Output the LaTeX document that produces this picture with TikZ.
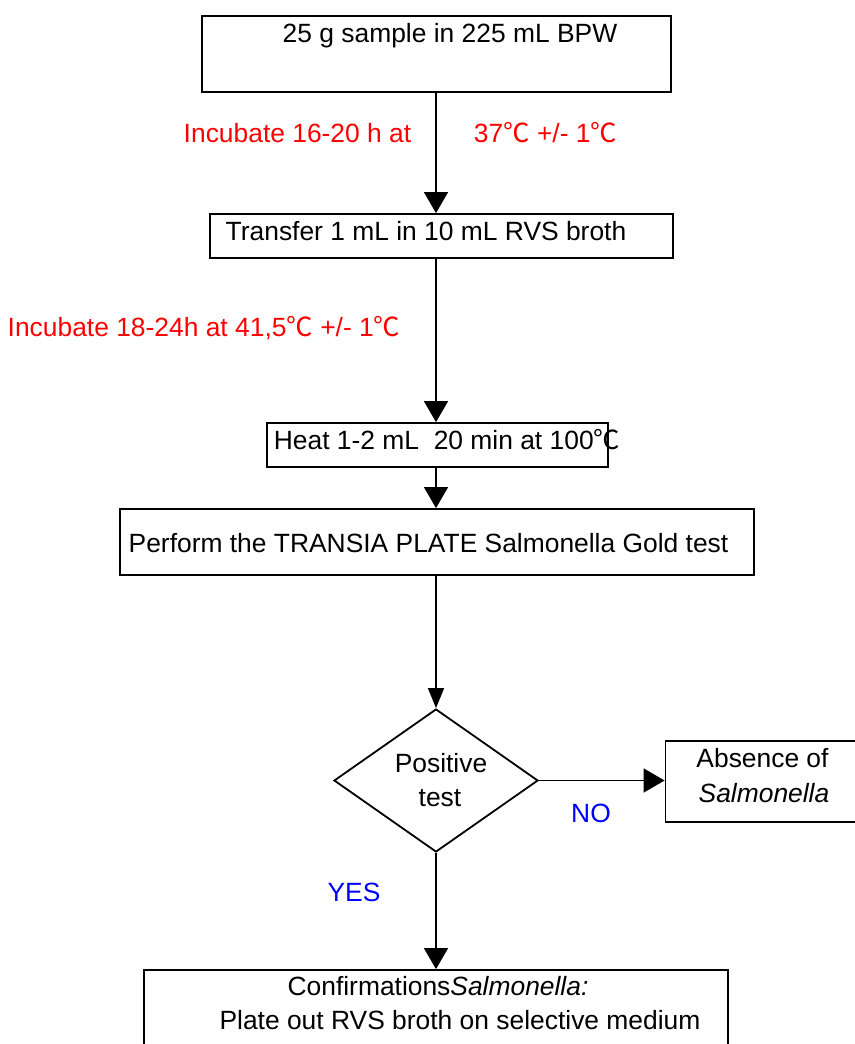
\documentclass[tikz,border=0pt]{standalone}
\usepackage{fontspec}
\setmainfont{Liberation Sans}
\newfontfamily\cjkfont{Noto Sans CJK SC}
\newcommand\degc{{\cjkfont ℃}}
\usetikzlibrary{shapes.geometric,arrows.meta}
\definecolor{labred}{RGB}{255,0,0}
\definecolor{labblue}{RGB}{0,0,255}
\begin{document}
\begin{tikzpicture}[x=1pt,y=-1pt,
  box/.style={draw,line width=1.8pt,inner sep=0pt},
  txt/.style={anchor=base,inner sep=0pt,font=\fontsize{26.4}{32}\selectfont},
  redlab/.style={txt,text=labred},
  bluelab/.style={txt,text=labblue},
  arr/.style={line width=1.5pt,-{Triangle[length=21pt,width=24pt]}},
  smallarr/.style={line width=1.5pt,-{Triangle[length=20pt,width=16pt]}}
]
\useasboundingbox (0,0) rectangle (854,1044);

% boxes
\node[box,minimum width=469pt,minimum height=76pt] (b1) at (436.5,54) {};
\node[box,minimum width=463pt,minimum height=44pt] (b2) at (441.5,236) {};
\node[box,minimum width=341pt,minimum height=44pt] (b3) at (437.5,445) {};
\node[box,minimum width=633.5pt,minimum height=66pt] (b4) at (437,542) {};
\node[box,diamond,aspect=1.43,minimum width=204pt,minimum height=143pt] (dia) at (436,780.5) {};
\node[box,minimum width=214.5pt,minimum height=81pt] (b5) at (772.75,781.5) {};
\node[box,minimum width=584pt,minimum height=100pt] (b6) at (436,1020) {};

% texts
\node[txt] (t1) at (450,42) {25 g sample in 225 mL BPW};
\node[txt] (t2) at (426,240) {Transfer 1 mL in 10 mL RVS broth};
\node[txt] (t3) at (447,449) {Heat 1-2 mL\ \ 20 min at 100\degc};
\node[txt] (t4) at (428.5,552) {Perform the TRANSIA PLATE Salmonella Gold test};
\node[txt] (t5a) at (441,772) {Positive};
\node[txt] (t5b) at (440,806) {test};
\node[txt] (t6a) at (762.5,767) {Absence of};
\node[txt] (t6b) at (764,802) {\itshape Salmonella};
\node[txt] (t7a) at (438,995) {Confirmations\textit{Salmonella:}};
\node[txt] (t7b) at (460,1029) {Plate out RVS broth on selective medium};

% labels
\node[redlab] (l1a) at (297.5,142) {Incubate 16-20 h at};
\node[redlab] (l1b) at (545.5,142) {37\degc\ +/- 1\degc};
\node[redlab] (l2) at (204,336) {Incubate 18-24h at 41,5\degc\ +/- 1\degc};
\node[bluelab] (lno) at (591,822) {NO};
\node[bluelab] (lyes) at (354,901) {YES};

% connectors
\coordinate (ax) at (436,0);
\draw[arr] (ax |- b1.south) -- (ax |- b2.north);
\draw[arr] (ax |- b2.south) -- (ax |- b3.north);
\draw[arr] (ax |- b3.south) -- (ax |- b4.north);
\draw[smallarr] (ax |- b4.south) -- (dia.north);
\draw[arr] (dia.east) -- (b5.west |- dia.east);
\draw[arr] (dia.south) -- (ax |- b6.north);
\end{tikzpicture}
\end{document}
